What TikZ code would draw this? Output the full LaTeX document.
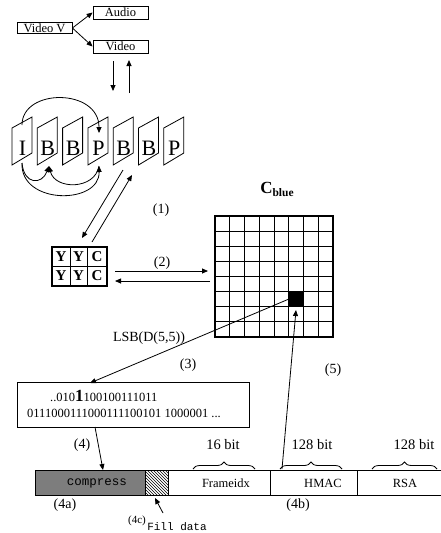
\documentclass[tikz,border=0pt]{standalone}
\usepackage{fontspec}
\setmainfont{Liberation Serif}
\setmonofont{Liberation Mono}
\usetikzlibrary{arrows.meta,patterns,decorations.pathreplacing}
\definecolor{cgray}{RGB}{125,125,125}
\begin{document}
\begin{tikzpicture}[x=1pt,y=-1pt,
  arr/.style={-{Triangle[length=6pt,width=5pt]}, line width=0.8pt},
  box/.style={draw, line width=0.8pt, inner sep=0pt, minimum width=55pt, font=\fontsize{12.5}{13}\selectfont},
  lbl/.style={font=\fontsize{14}{16}\selectfont, inner sep=0pt},
  thinl/.style={line width=0.8pt},
  frm/.style={font=\fontsize{22}{23}\selectfont, inner sep=0pt},
  yy/.style={font=\fontsize{15}{16}\selectfont\bfseries, inner sep=0pt},
  bar/.style={draw, line width=1pt, inner sep=0pt, minimum height=25pt},
  bart/.style={font=\fontsize{12.5}{14}\selectfont, inner sep=0pt},
  bits/.style={font=\fontsize{12.5}{14}\selectfont, inner sep=0pt, anchor=west},
  brc/.style={decorate, decoration={brace, amplitude=7pt}, line width=0.8pt}
]
\useasboundingbox (0,0) rectangle (441,533);

% ---- top: video split
\node[box, minimum height=11pt] (vv) at (44.5,28) {Video V};
\node[box, minimum height=13pt] (au) at (120.5,12.5) {Audio};
\node[box, minimum height=13pt] (vi) at (120.5,46.5) {Video};
\draw[arr] (vv.east) -- (au.west);
\draw[arr] (vv.east) -- (vi.west);
\coordinate (d1) at (113,61); \coordinate (d2) at (113,91);
\coordinate (u1) at (129,93); \coordinate (u2) at (129,60);
\draw[arr] (d1) -- (d2);
\draw[arr] (u1) -- (u2);

% ---- frames
\foreach \i/\L in {0/I,1/B,2/B,3/P,4/B,5/B,6/P}{
  \pgfmathsetmacro\xx{12+25.3*\i}
  \draw[thinl] (\xx,165) -- (\xx,128) -- (\xx+20,117) -- (\xx+20,153) -- cycle;
  \node[frm] (f\i) at (\xx+10.5,148.5) {\L};
}
\coordinate (iT) at (22,125); \coordinate (pT) at (99,133);
\draw[arr] (iT) .. controls (22,88) and (99,88) .. (pT);
\coordinate (iB) at (22,163); \coordinate (bB) at (49,166); \coordinate (pB) at (99,166);
\draw[arr] (iB) .. controls (24,185) and (42,185) .. (bB);
\draw[arr] (pB) .. controls (95,190) and (55,190) .. (bB);
\draw[arr] (iB) .. controls (20,205) and (100,205) .. (pB);

% ---- YYC block
\node[draw, line width=2.4pt, minimum width=55pt, minimum height=39pt, inner sep=0pt] (yyc) at (79.5,266.5) {};
\draw[thinl] (70,247) -- (70,286) (87,247) -- (87,286) (52,266) -- (107,266);
\foreach \c/\x in {Y/61, Y/78.5, C/97}{
  \node[yy] at (\x,257) {\c};
  \node[yy] at (\x,276) {\c};
}
\coordinate (a1) at (123,170); \coordinate (a2) at (82,238);
\coordinate (b1) at (92,242); \coordinate (b2) at (132,175);
\draw[arr] (a1) -- (a2);
\draw[arr] (b1) -- (b2);
\node[lbl] (l1) at (161,210) {(1)};

% ---- grid
\node[draw, line width=2.8pt, minimum width=118pt, minimum height=121pt, inner sep=0pt] (grid) at (274,276.5) {};
\foreach \i in {1,...,7}{
  \draw[thinl] (215+14.75*\i,216) -- (215+14.75*\i,337);
  \draw[thinl] (215,216+15.125*\i) -- (333,216+15.125*\i);
}
\node[fill=black, minimum width=14.75pt, minimum height=15.1pt, inner sep=0pt] (sq) at (296.1,299.2) {};
\node[inner sep=0pt, font=\fontsize{17}{18}\selectfont\bfseries] (cb) at (277,189) {C\raisebox{-3pt}{\fontsize{11.5}{12}\selectfont blue}};

% ---- (2) arrows
\coordinate (r1) at (115,271); \coordinate (r2) at (208,271);
\coordinate (s1) at (210,281); \coordinate (s2) at (115,281);
\draw[arr] (r1) -- (r2);
\draw[arr] (s1) -- (s2);
\node[lbl] (l2) at (162,263) {(2)};

% ---- bit text box
\node[draw, line width=0.8pt, minimum width=232pt, minimum height=45pt, inner sep=0pt] (tb) at (133,404.5) {};
\node[bits] (t1) at (50,396) {..010{\fontsize{17}{18}\selectfont\bfseries 1}100100111011};
\node[bits] (t2) at (27,413) {0111000111000111100101 1000001 ...};
\coordinate (t3) at (90,383);
\draw[arr] (sq.west) -- (t3);
\node[lbl] (lsb) at (149,338) {LSB(D(5,5))};
\node[lbl] (l3) at (188,365) {(3)};

% ---- bottom bar
\node[bar, fill=cgray, minimum width=110pt] (cp) at (90,482.5) {};
\node[bar, pattern=north west lines, minimum width=23pt] (hb) at (156.5,482.5) {};
\node[bar, minimum width=102pt] (fi) at (219,482.5) {};
\node[bar, minimum width=87pt] (hm) at (313.5,482.5) {};
\node[bar, minimum width=84pt] (rs) at (399,482.5) {};
\node[inner sep=0pt, font=\fontsize{12.5}{14}\selectfont\ttfamily] at (97,483) {compress};
\node[bart] at (226,483) {Frameidx};
\node[bart] at (323,483) {HMAC};
\node[bart] at (405,483) {RSA};

\draw[brc] (193,469) -- (255,469);
\draw[brc] (280,469) -- (342,469);
\draw[brc] (372,469) -- (437,469);
\node[lbl, font=\fontsize{14.5}{16}\selectfont] at (223,445) {16 bit};
\node[lbl, font=\fontsize{14.5}{16}\selectfont] at (312,445) {128 bit};
\node[lbl, font=\fontsize{14.5}{16}\selectfont] at (414,445) {128 bit};

\coordinate (c4a) at (95,427); \coordinate (c4b) at (103,470);
\draw[arr] (c4a) -- (c4b);
\node[lbl] (l4) at (82,445) {(4)};

\coordinate (h5) at (282,469); \coordinate (h5b) at (296,310);
\draw[arr] (h5) -- (h5b);
\node[lbl] (l5) at (333,370) {(5)};

\node[lbl] at (65,505) {(4a)};
\node[lbl] at (298,505) {(4b)};
\node[lbl, font=\fontsize{11}{12}\selectfont] at (137,521) {(4c)};
\node[inner sep=0pt, font=\fontsize{11}{13}\selectfont\ttfamily] (fd) at (177,527) {Fill data};
\coordinate (fa) at (163,513); \coordinate (fb) at (155,498);
\draw[arr] (fa) -- (fb);
\end{tikzpicture}
\end{document}
